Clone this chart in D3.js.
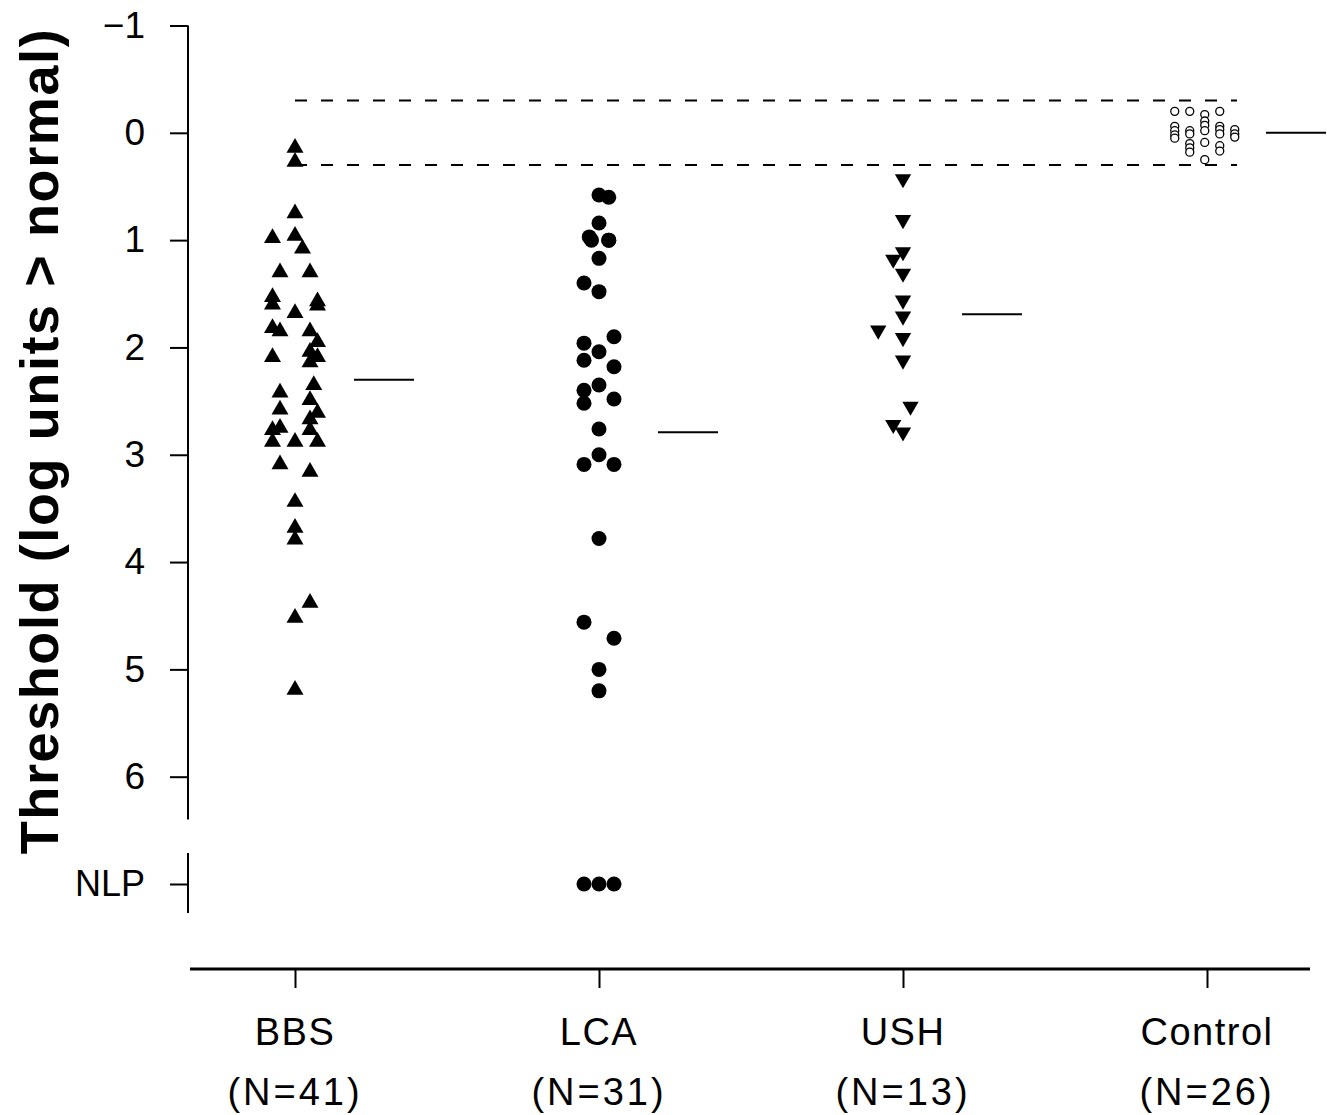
<!DOCTYPE html>
<html>
<head>
<meta charset="utf-8">
<script src="https://cdn.jsdelivr.net/npm/d3@7"></script>
<style>
  body { margin: 0; background: #fff; }
  text { font-family: "Liberation Sans", Arial, sans-serif; fill: #000; }
</style>
</head>
<body>
<div id="chart"></div>
<script>
// categories and group sizes
const categories = ["BBS", "LCA", "USH", "Control"];
const counts = [41, 31, 13, 26];
const yTicks = [-1, 0, 1, 2, 3, 4, 5, 6];
const nlpValue = 7; // "no light perception" row
const normalRange = [-0.3, 0.3];
const means = [2.30, 2.79, 1.69, 0.0];

// threshold values, jitter = column slot
const bbsValues = [0.14, 0.27, 0.75, 0.98, 0.96, 1.08, 1.30, 1.30, 1.53, 1.60, 1.57, 1.61, 1.68, 1.82, 1.85, 1.85, 1.95, 2.09, 2.04, 2.09, 2.14, 2.35, 2.42, 2.49, 2.58, 2.61, 2.67, 2.77, 2.75, 2.77, 2.88, 2.88, 2.88, 3.09, 3.16, 3.44, 3.68, 3.79, 4.38, 4.52, 5.19];
const bbsJitter = [0, 0, 0, -3, 0, 1, -2, 2, -3, -3, 3, 3, 0, -3, -2, 2, 3, -3, 2, 3, 2, 2.5, -2, 2, -2, 3, 2, -3, -2, 2, -3, 0, 3, -2, 2, 0, 0, 0, 2, 0, 0];

const lcaValues = [0.58, 0.60, 0.84, 0.97, 1.00, 1.00, 1.00, 1.17, 1.40, 1.48, 1.90, 1.96, 2.04, 2.12, 2.18, 2.35, 2.40, 2.52, 2.48, 2.76, 3.00, 3.09, 3.09, 3.78, 4.56, 4.71, 5.00, 5.20, 7, 7, 7];
const lcaJitter = [0, 1.3, 0, -1.3, -1, 1.3, 1.3, 0, -2, 0, 2, -2, 0, -2, 2, 0, -2, -2, 2, 0, 0, -2, 2, 0, -2, 2, 0, 0, -2, 0, 2];

const ushValues = [0.43, 0.81, 1.11, 1.18, 1.31, 1.56, 1.71, 1.84, 1.91, 2.12, 2.55, 2.72, 2.79];
const ushJitter = [0, 0, 0, -1.3, 0, 0, 0, -3.3, 0, 0, 1, -1.3, 0];

const controlValues = [-0.20, -0.06, -0.02, 0.02, 0.05, -0.20, -0.02, 0.01, 0.10, 0.14, 0.18, -0.17, -0.11, -0.07, -0.02, 0.09, 0.25, -0.20, -0.06, -0.03, 0.01, 0.12, 0.17, -0.03, 0.01, 0.04];
const controlJitter = [-4.3, -4.3, -4.3, -4.3, -4.3, -2.3, -2.3, -2.3, -2.3, -2.3, -2.3, -0.3, -0.3, -0.3, -0.3, -0.3, -0.3, 1.7, 1.7, 1.7, 1.7, 1.7, 1.7, 3.7, 3.7, 3.7];

const width = 1327;
const height = 1115;

const svg = d3.select("#chart")
  .append("svg")
  .attr("width", width)
  .attr("height", height);

const axisX = 188;
const baseY = 969;

// scales
const yScale = d3.scaleLinear()
  .domain([-1, 7])
  .range([25.5, 884]);

const xScale = d3.scalePoint()
  .domain(categories)
  .range([295, 1207]);

const jitter = d3.scaleLinear()
  .domain([-1, 1])
  .range([-7.5, 7.5]);

// Y axis (main part)
const yAxis = svg.append("g")
  .attr("transform", `translate(${axisX},0)`)
  .call(d3.axisLeft(yScale).tickValues(yTicks).tickSize(18).tickPadding(25));
yAxis.select(".domain").remove();

// NLP part below the break
const nlpAxis = svg.append("g")
  .attr("transform", `translate(${axisX},0)`)
  .call(d3.axisLeft(yScale).tickValues([nlpValue]).tickFormat(() => "NLP").tickSize(18).tickPadding(25));
nlpAxis.select(".domain").remove();

svg.selectAll(".tick line").attr("stroke", "#000").attr("stroke-width", 2);
yAxis.selectAll(".tick text").style("font-size", "37px").style("font-family", "Liberation Sans, Arial, sans-serif");
nlpAxis.selectAll(".tick text").style("font-size", "36px").style("font-family", "Liberation Sans, Arial, sans-serif");

// broken axis line
svg.append("line")
  .attr("x1", axisX).attr("x2", axisX)
  .attr("y1", yScale(-1)).attr("y2", yScale(6.4))
  .attr("stroke", "#000").attr("stroke-width", 2);
svg.append("line")
  .attr("x1", axisX).attr("x2", axisX)
  .attr("y1", yScale(6.71)).attr("y2", yScale(7.27))
  .attr("stroke", "#000").attr("stroke-width", 2);

// y-label
svg.append("text")
  .attr("transform", "rotate(-90)")
  .attr("x", -441)
  .attr("y", 58)
  .attr("text-anchor", "middle")
  .style("font-size", "54px")
  .style("font-weight", "bold")
  .style("letter-spacing", "1.6px")
  .text("Threshold (log units > normal)");

// X axis
svg.append("line")
  .attr("x1", 190).attr("x2", 1310)
  .attr("y1", baseY).attr("y2", baseY)
  .attr("stroke", "#000").attr("stroke-width", 3);

const xAxis = svg.append("g")
  .attr("transform", `translate(0,${baseY})`)
  .call(d3.axisBottom(xScale).tickSize(19).tickFormat(""));
xAxis.select(".domain").remove();
xAxis.selectAll(".tick line").attr("stroke", "#000").attr("stroke-width", 2);

categories.forEach((c, i) => {
  svg.append("text")
    .attr("x", xScale(c))
    .attr("y", 1045)
    .attr("text-anchor", "middle")
    .style("font-size", "38px")
    .style("letter-spacing", "1.5px")
    .text(c);
  svg.append("text")
    .attr("x", xScale(c))
    .attr("y", 1105)
    .attr("text-anchor", "middle")
    .style("font-size", "38px")
    .style("letter-spacing", "3px")
    .text(`(N=${counts[i]})`);
});

// normal range (dashed)
normalRange.forEach(v => {
  svg.append("line")
    .attr("x1", xScale("BBS"))
    .attr("x2", xScale("Control") + 30)
    .attr("y1", yScale(v)).attr("y2", yScale(v))
    .attr("stroke", "#000")
    .attr("stroke-width", 2)
    .attr("stroke-dasharray", "12,14");
});

// mean lines
categories.forEach((c, i) => {
  svg.append("line")
    .attr("x1", xScale(c) + 59)
    .attr("x2", xScale(c) + 119)
    .attr("y1", yScale(means[i])).attr("y2", yScale(means[i]))
    .attr("stroke", "#000")
    .attr("stroke-width", 2);
});

// points
const tri = d3.symbol().type(d3.symbolTriangle).size(125);
const triDown = d3.symbol().type(d3.symbolTriangle).size(115);

svg.append("g").selectAll("path")
  .data(bbsValues.map((v, i) => ({ v, j: bbsJitter[i] })))
  .enter()
  .append("path")
  .attr("d", tri)
  .attr("transform", d => `translate(${xScale("BBS") + jitter(d.j)},${yScale(d.v)})`)
  .attr("fill", "#000");

svg.append("g").selectAll("circle")
  .data(lcaValues.map((v, i) => ({ v, j: lcaJitter[i] })))
  .enter()
  .append("circle")
  .attr("cx", d => xScale("LCA") + jitter(d.j))
  .attr("cy", d => yScale(d.v))
  .attr("r", 7.5)
  .attr("fill", "#000");

svg.append("g").selectAll("path")
  .data(ushValues.map((v, i) => ({ v, j: ushJitter[i] })))
  .enter()
  .append("path")
  .attr("d", triDown)
  .attr("transform", d => `translate(${xScale("USH") + jitter(d.j)},${yScale(d.v)}) rotate(180)`)
  .attr("fill", "#000");

svg.append("g").selectAll("circle")
  .data(controlValues.map((v, i) => ({ v, j: controlJitter[i] })))
  .enter()
  .append("circle")
  .attr("cx", d => xScale("Control") + jitter(d.j))
  .attr("cy", d => yScale(d.v))
  .attr("r", 4)
  .attr("fill", "#fff")
  .attr("stroke", "#000")
  .attr("stroke-width", 1.3);
</script>
</body>
</html>
